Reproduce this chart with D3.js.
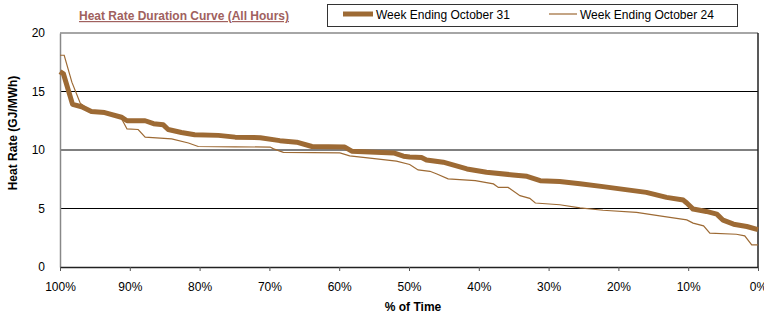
<!DOCTYPE html>
<html>
<head>
<script src="https://cdn.jsdelivr.net/npm/d3@7"></script>
<style>
body { margin: 0; background: #fff; }
svg { font-family: "Liberation Sans", Arial, sans-serif; }
.tick text { font-size: 12px; fill: #000; }
</style>
</head>
<body>
<svg width="764" height="314"></svg>
<script>
// values: % of time (x) and heat rate in GJ/MWh (y)
var oct31Pct = [100, 99.5, 98.2, 96.9, 95.5, 93.6, 91.2, 90.4, 87.8, 86.6, 85.2, 84.5, 82.6, 80.7, 77.3, 74.9,
	71.3, 68.5, 66.1, 63.9, 59.2, 58.2, 52.2, 50.8, 49.9, 48.2, 47.5, 45.1, 41.7, 38.9, 35.1, 33.1, 31.2,
	28.4, 25.5, 22.2, 16.0, 13.1, 10.7, 10.2, 9.3, 7.4, 5.9, 5.0, 3.5, 1.6, 0];
var oct31Val = [16.7, 16.5, 13.9, 13.7, 13.3, 13.2, 12.8, 12.5, 12.5, 12.25, 12.15, 11.75, 11.5, 11.3, 11.25, 11.1,
	11.05, 10.8, 10.67, 10.3, 10.25, 9.9, 9.75, 9.47, 9.4, 9.35, 9.15, 8.96, 8.38, 8.1, 7.87, 7.75, 7.38,
	7.3, 7.12, 6.87, 6.38, 5.95, 5.72, 5.47, 4.95, 4.75, 4.52, 4.0, 3.66, 3.46, 3.2];

var oct24Pct = [100, 99.4, 98.3, 97.1, 95.5, 93.6, 91.2, 90.4, 88.8, 87.8, 84.0, 81.6, 80.2, 74.9, 69.9, 69.4,
	68.0, 59.9, 58.5, 55.6, 51.8, 49.9, 48.7, 47.0, 46.0, 44.4, 40.5, 37.9, 37.2, 35.8, 34.1, 32.7, 31.9,
	28.4, 25.5, 22.2, 17.4, 13.6, 10.2, 9.3, 7.8, 6.9, 3.1, 1.9, 0.9, 0];
var oct24Val = [18.1, 18.1, 15.8, 14.0, 13.3, 13.2, 12.7, 11.8, 11.75, 11.1, 10.95, 10.6, 10.3, 10.27, 10.25, 10.1,
	9.8, 9.75, 9.5, 9.3, 9.05, 8.76, 8.3, 8.18, 7.95, 7.53, 7.38, 7.1, 6.8, 6.8, 6.1, 5.87, 5.47,
	5.32, 5.05, 4.85, 4.67, 4.32, 4.03, 3.75, 3.52, 2.89, 2.8, 2.66, 1.89, 1.89];

var seriesNames = ["Week Ending October 31", "Week Ending October 24"];
var xTicks = [100, 90, 80, 70, 60, 50, 40, 30, 20, 10, 0];
var yTicks = [0, 5, 10, 15, 20];

var brown = "#9d6a34";

var svg = d3.select("svg");
var margin = {left: 60, right: 6, top: 33, bottom: 47};
var width = 764 - margin.left - margin.right,
	height = 314 - margin.top - margin.bottom;

var x = d3.scaleLinear().domain([100, 0]).range([0, width]);
var y = d3.scaleLinear().domain([0, 20]).range([height, 0]);

var g = svg.append("g").attr("transform", "translate(" + margin.left + "," + margin.top + ")");

// gridlines
g.append("g")
	.selectAll("line")
	.data(yTicks.filter(function(d) { return d > 0 && d < 20; }))
	.enter().append("line")
	.attr("x1", 0).attr("x2", width)
	.attr("y1", function(d) { return y(d); })
	.attr("y2", function(d) { return y(d); })
	.attr("stroke", "#000").attr("stroke-width", 1);

// frame: grey top/left, dark right
g.append("line").attr("x1", 0).attr("x2", width).attr("y1", 0).attr("y2", 0)
	.attr("stroke", "#888").attr("stroke-width", 1.5);
g.append("line").attr("x1", width).attr("x2", width).attr("y1", 0).attr("y2", height)
	.attr("stroke", "#222").attr("stroke-width", 1.5);

var yAxis = g.append("g")
	.call(d3.axisLeft(y).tickValues(yTicks).tickSize(0).tickPadding(15));
yAxis.select(".domain").attr("stroke", "#888").attr("stroke-width", 1.5);

var xAxis = g.append("g")
	.attr("transform", "translate(0," + height + ")")
	.call(d3.axisBottom(x).tickValues(xTicks).tickSize(4).tickSizeOuter(0).tickPadding(11)
		.tickFormat(function(d) { return d + "%"; }));
xAxis.select(".domain").attr("stroke", "#222").attr("stroke-width", 1.5);
xAxis.selectAll(".tick line").attr("stroke", "#555");

var line = d3.line()
	.x(function(d) { return x(d[0]); })
	.y(function(d) { return y(d[1]); });

var data24 = d3.zip(oct24Pct, oct24Val);
var data31 = d3.zip(oct31Pct, oct31Val);

g.append("path").datum(data24)
	.attr("d", line).attr("fill", "none")
	.attr("stroke", brown).attr("stroke-width", 1.2);

g.append("path").datum(data31)
	.attr("d", line).attr("fill", "none")
	.attr("stroke", brown).attr("stroke-width", 5)
	.attr("stroke-linejoin", "round");

// axis titles
svg.append("text")
	.attr("transform", "translate(17,133) rotate(-90)")
	.attr("text-anchor", "middle")
	.style("font-size", "12px").style("font-weight", "bold")
	.text("Heat Rate (GJ/MWh)");

svg.append("text")
	.attr("x", 413).attr("y", 311)
	.attr("text-anchor", "middle")
	.style("font-size", "12px").style("font-weight", "bold")
	.text("% of Time");

// title
svg.append("text")
	.attr("x", 184).attr("y", 20)
	.attr("text-anchor", "middle")
	.style("font-size", "12px").style("font-weight", "bold")
	.style("fill", "#a0615e")
	.style("text-decoration", "underline")
	.text("Heat Rate Duration Curve (All Hours)");

// legend
var legend = svg.append("g");
legend.append("rect")
	.attr("x", 327.5).attr("y", 4.5).attr("width", 410).attr("height", 22)
	.attr("fill", "#fff").attr("stroke", "#333").attr("stroke-width", 1);

var legendItems = [
	{name: seriesNames[0], x1: 343, x2: 373, w: 5},
	{name: seriesNames[1], x1: 549, x2: 577, w: 1.2}
];
legendItems.forEach(function(it) {
	legend.append("line")
		.attr("x1", it.x1).attr("x2", it.x2).attr("y1", 14).attr("y2", 14)
		.attr("stroke", brown).attr("stroke-width", it.w);
	legend.append("text")
		.attr("x", it.x2 + 3).attr("y", 19)
		.style("font-size", "12px")
		.text(it.name);
});
</script>
</body>
</html>
